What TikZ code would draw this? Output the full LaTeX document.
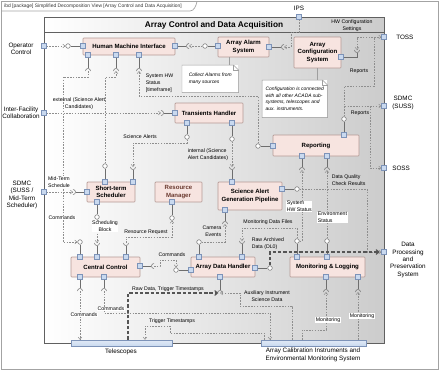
\documentclass[tikz,border=0pt]{standalone}
\usepackage{fontspec}
\setmainfont{Liberation Sans}
\usetikzlibrary{arrows.meta,calc,positioning}
\definecolor{blkfill}{HTML}{F7E4E0}
\definecolor{blkline}{HTML}{B59A95}
\definecolor{prtfill}{HTML}{C9D9EF}
\definecolor{prtline}{HTML}{7D93B8}
\definecolor{conc}{HTML}{8E8E8E}
\definecolor{symc}{HTML}{6E6E6E}
\definecolor{thkc}{HTML}{555555}
\definecolor{framec}{HTML}{A3A3A3}
\definecolor{rmtext}{HTML}{6B3A30}

\begin{document}
\begin{tikzpicture}[x=0.025cm,y=-0.025cm,
  sz/.style 2 args={minimum width=#1*0.025cm,minimum height=#2*0.025cm},
  blk/.style={draw=blkline,fill=blkfill,line width=0.4pt,rounded corners=0.6pt,inner sep=0pt,align=center,font=\bfseries\fontsize{4.3}{5.3}\selectfont},
  prt/.style={draw=prtline,fill=prtfill,line width=0.35pt,minimum size=3.4pt,inner sep=0pt},
  ball/.style={circle,draw=symc,fill=white,line width=0.35pt,minimum size=3.3pt,inner sep=0pt},
  stem/.style={draw=symc,line width=0.35pt},
  stemS/.style={stem,shorten >=1.8pt},
  sock/.pic={\draw[symc,line width=0.35pt] (0,1.8pt) arc (90:270:1.8pt);},
  con/.style={draw=conc,line width=0.35pt,dash pattern=on 1.1pt off 0.9pt,-{Straight Barb[length=1.6pt,width=2.6pt]}},
  thk/.style={draw=thkc,line width=0.8pt,dash pattern=on 2.4pt off 1.4pt,shorten >=1.2pt,-{Straight Barb[length=2pt,width=3.4pt]}},
  lbl/.style={inner sep=0.4pt,align=center,font=\fontsize{3.7}{5}\selectfont},
  wlbl/.style={lbl,fill=white},
  ext/.style={inner sep=0pt,align=center,font=\fontsize{4.5}{5.3}\selectfont},
  note/.style={fill=white,inner sep=2pt,align=left,font=\itshape\fontsize{3.5}{4.7}\selectfont},
  notebox/.style={draw=gray!75,line width=0.35pt},
  bar/.style={draw=prtline,top color=prtfill!55,bottom color=prtfill,line width=0.35pt,inner sep=0pt}]
\useasboundingbox (0,0) rectangle (440,371);
\draw[framec,line width=1pt] (1.5,1.5) rectangle (438.5,369.5);
\draw[framec,line width=0.5pt] (1.5,11) -- (190,11) .. controls (194,11) and (196,6) .. (197,1.5);
\node[anchor=west,inner sep=0pt,text=black!80,font=\fontsize{3.5}{4}\selectfont] (hdr) at (4,6) {ibd [package] Simplified Decomposition View [Array Control and Data Acquisition]};
\draw[draw=gray!75!black,line width=0.5pt,left color=white,right color=black!20] (44,17) rectangle (384,343);
\draw[gray!75!black,line width=0.4pt] (44,32) -- (384,32);
\node[font=\bfseries\fontsize{5.9}{6.5}\selectfont] (ttl) at (214,25) {Array Control and Data Acquisition};

\node[blk,sz={92}{17}] (hmi) at (129,46.5) {Human Machine Interface};
\node[blk,sz={51}{20}] (alm) at (243.5,47) {Array Alarm\\System};
\node[blk,sz={47}{31}] (cfg) at (317.5,52.5) {Array\\Configuration\\System};
\node[blk,sz={68}{20}] (trh) at (209,113) {Transients Handler};
\node[blk,sz={86}{21}] (rep) at (316,145.5) {Reporting};
\node[blk,sz={48}{20}] (sts) at (111,192) {Short-term\\Scheduler};
\node[blk,sz={47}{20},text=rmtext] (rsm) at (178.5,192) {Resource\\Manager};
\node[blk,sz={64}{28}] (sag) at (250,196) {Science Alert\\Generation Pipeline};
\node[blk,sz={69}{20}] (cc) at (105.5,267) {Central Control};
\node[blk,sz={64}{20}] (adh) at (223,267) {Array Data Handler};
\node[blk,sz={75}{20}] (mnl) at (327.5,267) {Monitoring \& Logging};

\node[note,sz={56}{27},anchor=north west] (nAl) at (182,65) {Collect Alarms from\\many sources};
\draw[notebox] (nAl.north west) -- ($(nAl.north east)+(-5,0)$) -- ($(nAl.north east)+(0,5)$) -- (nAl.south east) -- (nAl.south west) -- cycle;
\draw[notebox] ($(nAl.north east)+(-5,0)$) -- ++(0,5) -- ++(5,0);
\draw[notebox] ($(nAl.north east)+(-9,0)$) -- ++(0,-8);
\node[note,sz={65}{37},anchor=north west] (nCf) at (262,80) {Configuration is connected\\with all other ACADA sub-\\systems, telescopes and\\aux. instruments.};
\draw[notebox] (nCf.north west) -- ($(nCf.north east)+(-5,0)$) -- ($(nCf.north east)+(0,5)$) -- (nCf.south east) -- (nCf.south west) -- cycle;
\draw[notebox] ($(nCf.north east)+(-5,0)$) -- ++(0,5) -- ++(5,0);
\draw[notebox] (nCf.north -| cfg.south) -- (cfg.south);

\node[bar,sz={101}{6}] (tel) at (121.5,343) {};
\node[bar,sz={105}{6}] (acal) at (313.5,343) {};

\node[prt] (pOC) at (44,46) {};
\node[prt] (pIF) at (44,113) {};
\node[prt] (pSD) at (44,192) {};
\node[prt] (pIPS) at (299,17) {};
\node[prt] (pTOSS) at (384,37) {};
\node[prt] (pSUSS) at (384,106) {};
\node[prt] (pSOSS) at (384,168) {};
\node[prt] (pDPP) at (384,252) {};

\node[prt] (hmiL) at (83,46) {};
\node[prt] (hmiR) at (175,46) {};
\node[prt] (hmiB1) at (88,55) {};
\node[prt] (hmiB2) at (116,55) {};
\node[prt] (hmiB3) at (139,55) {};
\node[prt] (almL) at (218,46) {};
\node[prt] (almR) at (269,47) {};
\node[prt] (cfgR) at (341,57) {};
\node[prt] (trhL) at (175,113) {};
\node[prt] (trhB1) at (187,123) {};
\node[prt] (trhB2) at (232,123) {};
\node[prt] (repL) at (273,146) {};
\node[prt] (repT) at (344,135) {};
\node[prt] (repB1) at (302,156) {};
\node[prt] (repB2) at (327,156) {};
\node[prt] (stsL) at (87,192) {};
\node[prt] (stsT1) at (105,182) {};
\node[prt] (stsT2) at (133,182) {};
\node[prt] (stsB) at (97,202) {};
\node[prt] (rsmB) at (172,202) {};
\node[prt] (sagT) at (232,182) {};
\node[prt] (sagR) at (282,189) {};
\node[prt] (sagB) at (225,210) {};
\node[prt] (ccT1) at (80,257) {};
\node[prt] (ccT2) at (97,257) {};
\node[prt] (ccT3) at (126,257) {};
\node[prt] (ccR) at (140,266) {};
\node[prt] (ccB1) at (80,277) {};
\node[prt] (ccB2) at (104,277) {};
\node[prt] (adhL) at (191,270) {};
\node[prt] (adhR) at (255,268) {};
\node[prt] (adhT1) at (199,257) {};
\node[prt] (adhT2) at (242,257) {};
\node[prt] (adhB) at (220,277) {};
\node[prt] (mnlT1) at (297,257) {};
\node[prt] (mnlT2) at (327,257) {};
\node[prt] (mnlB1) at (326,277) {};
\node[prt] (mnlB2) at (358,277) {};

\node[ball] (bOC) at (68,46) {};
\node[ball] (bAL) at (205,46) {};
\node[ball] (bRT) at (344,119) {};
\node[ball] (bRL) at (258,146) {};
\node[ball] (bC1) at (80,242) {};
\node[ball] (bS1) at (105,166) {};
\node[ball] (bT1) at (187,137) {};
\node[ball] (bT2) at (232,139) {};
\node[ball] (bSB) at (97,217) {};
\node[ball] (bRM) at (172,218) {};
\node[ball] (bA1) at (176,270) {};
\node[ball] (bA2) at (199,242) {};
\node[ball] (bM1) at (297,241) {};
\node[ball] (bM2) at (327,241) {};
\node[ball] (bG) at (297,189) {};
\node[ball] (bA4) at (270,268) {};

\coordinate (sHA) at (189,46);
\coordinate (sIP) at (284,47);
\coordinate (sCf) at (357,50);
\coordinate (sH1) at (88,71);
\coordinate (sH2) at (116,71);
\coordinate (sH3) at (139,71);
\coordinate (sTL) at (161,113);
\coordinate (sS2) at (133,167);
\coordinate (sG1) at (232,167);
\coordinate (sSL) at (73,192);
\coordinate (sC2) at (97,243);
\coordinate (sC3) at (126,243);
\coordinate (sCR) at (154,266);
\coordinate (sGB) at (225,224);
\coordinate (sA3) at (242,241);
\coordinate (sR1) at (302,170);
\coordinate (sR2) at (327,170);
\coordinate (sAB) at (220,293);
\coordinate (sCB1) at (80,291);
\coordinate (sCB2) at (104,291);
\coordinate (sM1) at (326,292);
\coordinate (sM2) at (358,292);

\pic at (sHA) {sock};
\pic at (sIP) {sock};
\pic at (sCR) {sock};
\pic[rotate=90] at (sCf) {sock};
\pic[rotate=90] at (sS2) {sock};
\pic[rotate=90] at (sG1) {sock};
\pic[rotate=90] at (sC2) {sock};
\pic[rotate=90] at (sC3) {sock};
\pic[rotate=90] at (sA3) {sock};
\pic[rotate=180] at (sTL) {sock};
\pic[rotate=180] at (sSL) {sock};
\pic[rotate=270] at (sH1) {sock};
\pic[rotate=270] at (sH2) {sock};
\pic[rotate=270] at (sH3) {sock};
\pic[rotate=270] at (sGB) {sock};
\pic[rotate=270] at (sR1) {sock};
\pic[rotate=270] at (sR2) {sock};
\pic[rotate=270] at (sAB) {sock};
\pic[rotate=270] at (sCB1) {sock};
\pic[rotate=270] at (sCB2) {sock};
\pic[rotate=270] at (sM1) {sock};
\pic[rotate=270] at (sM2) {sock};

\draw[stem] (hmiL) -- (bOC);
\draw[stem] (almL) -- (bAL);
\draw[stem] (repT) -- (bRT);
\draw[stem] (repL) -- (bRL);
\draw[stem] (ccT1) -- (bC1);
\draw[stem] (stsT1) -- (bS1);
\draw[stem] (trhB1) -- (bT1);
\draw[stem] (trhB2) -- (bT2);
\draw[stem] (stsB) -- (bSB);
\draw[stem] (rsmB) -- (bRM);
\draw[stem] (adhL) -- (bA1);
\draw[stem] (adhT1) -- (bA2);
\draw[stem] (mnlT1) -- (bM1);
\draw[stem] (mnlT2) -- (bM2);
\draw[stem] (sagR) -- (bG);
\draw[stem] (adhR) -- (bA4);
\draw[stemS] (hmiR) -- (sHA);
\draw[stemS] (almR) -- (sIP);
\draw[stemS] (cfgR) -| (sCf);
\draw[stemS] (hmiB1) -- (sH1);
\draw[stemS] (hmiB2) -- (sH2);
\draw[stemS] (hmiB3) -- (sH3);
\draw[stemS] (trhL) -- (sTL);
\draw[stemS] (stsT2) -- (sS2);
\draw[stemS] (sagT) -- (sG1);
\draw[stemS] (stsL) -- (sSL);
\draw[stemS] (ccT2) -- (sC2);
\draw[stemS] (ccT3) -- (sC3);
\draw[stemS] (ccR) -- (sCR);
\draw[stemS] (sagB) -- (sGB);
\draw[stemS] (adhT2) -- (sA3);
\draw[stemS] (repB1) -- (sR1);
\draw[stemS] (repB2) -- (sR2);
\draw[stemS] (adhB) -- (sAB);
\draw[stemS] (ccB1) -- (sCB1);
\draw[stemS] (ccB2) -- (sCB2);
\draw[stemS] (mnlB1) -- (sM1);
\draw[stemS] (mnlB2) -- (sM2);

\draw[con] (pOC) -- (bOC);
\draw[con] (bAL) -- (sHA);
\draw[con] (pIPS) -- (299,32) -- (291,32) |- (sIP);
\draw[con] (pTOSS) -| (sCf);
\draw[con] (bRT) -- (344,86) -- (374,86) |- (pTOSS);
\draw[con] (bRT) |- (pSUSS);
\draw[con] (bRT) |- (370,106) |- (pSOSS);
\draw[con] (bRL) -- (258,96) -| (sH3);
\draw[con] (sH1) -- (88,77) -| (63,242) -- (bC1);
\draw[con] (bS1) -- (105,77) -| (sH2);
\draw[con] (pIF) -- (sTL);
\draw[con] (bT1) -- (187,143) -| (sS2);
\draw[con] (bT2) -- (sG1);
\draw[con] (pSD) -- (sSL);
\draw[con] (bSB) -- (sC2);
\draw[con] (sC3) -- (126,237) -| (bRM);
\draw[con] (sCR) -- (160,266) |- (176,260) -- (bA1);
\draw[con] (bA2) -| (sGB);
\draw[con] (bM1) -- (297,228) -| (sA3);
\draw[con] (bM1) -| (sR1);
\draw[con] (bM2) -- (sR2);
\draw[con] (bG) -- (367,189) |- (pDPP);
\draw[thk] (bA4) |- (pDPP);
\draw[thk] (128,0 |- tel.north) |- (sAB);
\draw[con] (292,0 |- acal.north) |- (240,306) |- (sAB);
\draw[con] (sCB1) -- (80,0 |- tel.north);
\draw[con] (sCB2) -- (104,313) -| (270,0 |- acal.north);
\draw[con] (264,0 |- acal.north) -- (264,333) -- (170,333) -- (170,326) -| (145,0 |- tel.north);
\draw[con] (302,0 |- acal.north) -- (302,330) -| (sM1);
\draw[con] (358,0 |- acal.north) -- (sM2);

\node[ext] (lOC) at (21,49) {Operator\\Control};
\node[ext] (lIF) at (21,113) {Inter-Facility\\Collaboration};
\node[ext] (lSD) at (22,195) {SDMC\\(SUSS /\\Mid-Term\\Scheduler)};
\node[ext] (lIPS) at (299,8) {IPS};
\node[ext,anchor=west] (lTOSS) at (396,37) {TOSS};
\node[ext] (lSUSS) at (403,103) {SDMC\\(SUSS)};
\node[ext,anchor=west] (lSOSS) at (392,168) {SOSS};
\node[ext] (lDPP) at (408,260) {Data\\Processing\\and\\Preservation\\System};
\node[ext] (lTel) at (121,352) {Telescopes};
\node[ext] (lAc) at (313,355) {Array Calibration Instruments and\\Environmental Monitoring System};

\node[lbl] (lHW) at (352,26) {HW Configuration\\Settings};
\node[lbl] (lRp1) at (359,71) {Reports};
\node[lbl] (lRp2) at (360,113) {Reports};
\node[lbl,anchor=north west,align=left] (lSHW) at (145,73) {System HW\\Status\\{[timeframe]}};
\node[wlbl] (lCm1) at (62,218) {Commands};
\node[lbl] (lExt) at (79,103.5) {external (Science Alert\\Candidates)};
\node[lbl] (lSA) at (140,137) {Science Alerts};
\node[lbl,anchor=west,align=left] (lInt) at (187,155) {internal (Science\\Alert Candidates)};
\node[wlbl,align=left] (lMT) at (59,182) {Mid-Term\\Schedule};
\node[wlbl] (lSB) at (105,226.5) {Scheduling\\Block};
\node[lbl] (lRR) at (146,232) {Resource Request};
\node[lbl] (lCm2) at (172,255) {Commands};
\node[lbl,anchor=east,align=right] (lCE) at (222,231) {Camera\\Events};
\node[lbl] (lMDF) at (268,222) {Monitoring Data Files};
\node[wlbl,anchor=west,align=left] (lSHW2) at (286,206.5) {System\\HW Status};
\node[wlbl,anchor=west,align=left] (lEnv) at (317,217.5) {Environment\\Status};
\node[lbl,anchor=west,align=left] (lDQ) at (331,180.5) {Data Quality\\Check Results};
\node[lbl,anchor=west,align=left] (lRA) at (251,243.5) {Raw Archived\\Data (DL0)};
\node[lbl] (lRD) at (168,289) {Raw Data, Trigger Timestamps};
\node[lbl] (lAux) at (267,296) {Auxiliary Instrument\\Science Data};
\node[wlbl] (lCm3) at (84,315) {Commands};
\node[wlbl] (lCm4) at (111,309) {Commands};
\node[lbl] (lTT) at (172,321) {Trigger Timestamps};
\node[wlbl] (lMo1) at (328,320) {Monitoring};
\node[wlbl] (lMo2) at (362,316) {Monitoring};
\end{tikzpicture}
\end{document}
